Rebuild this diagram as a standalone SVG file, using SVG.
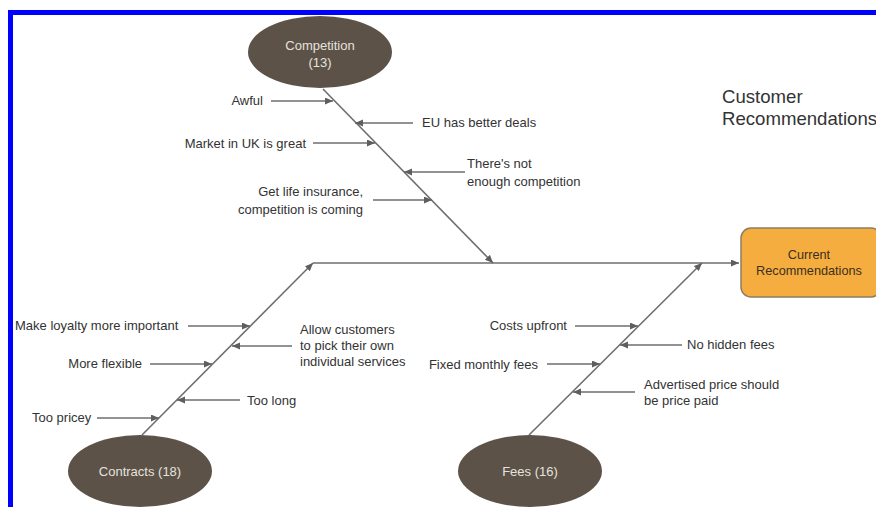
<svg xmlns="http://www.w3.org/2000/svg" width="876" height="507" viewBox="0 0 876 507">
  <style>
    .lbl { font-family: "Liberation Sans", Arial, sans-serif; font-size: 13px; fill: #333333; }
    .end { text-anchor: end; }
    .cause { fill: #5c5248; }
    .causeText { font-family: "Liberation Sans", Arial, sans-serif; font-size: 13px; fill: #e6e3df; text-anchor: middle; }
    .bone { stroke: #6e6e6e; stroke-width: 1.6; fill: none; marker-end: url(#ah); }
    .sub { stroke: #6e6e6e; stroke-width: 1.3; fill: none; marker-end: url(#ah); }
    .title { font-family: "Liberation Sans", Arial, sans-serif; font-size: 18.6px; fill: #333333; }
    .effText { font-family: "Liberation Sans", Arial, sans-serif; font-size: 12.7px; fill: #3a3020; text-anchor: middle; }
  </style>
  <defs>
    <marker id="ah" markerUnits="userSpaceOnUse" markerWidth="9" markerHeight="8" refX="8" refY="3.5" orient="auto">
      <path d="M0,0 L8,3.5 L0,7 Z" fill="#5e5e5e"/>
    </marker>
  </defs>
  <rect x="0" y="0" width="876" height="507" fill="#ffffff"/>
  <rect id="frame" x="10.5" y="12.5" width="880" height="510" fill="#ffffff" stroke="#0000ff" stroke-width="5"/>

  <g id="connectors">
    <line class="bone" x1="313" y1="263" x2="739" y2="263"/>
    <line class="bone" x1="323" y1="89" x2="493" y2="263"/>
    <line class="bone" x1="142" y1="435" x2="313" y2="263"/>
    <line class="bone" x1="529" y1="435" x2="702" y2="263"/>
    <!-- competition sub-causes -->
    <line class="sub" x1="271" y1="101" x2="333" y2="101"/>
    <line class="sub" x1="413" y1="123" x2="355" y2="123"/>
    <line class="sub" x1="313" y1="143" x2="375" y2="143"/>
    <line class="sub" x1="465" y1="172" x2="404" y2="172"/>
    <line class="sub" x1="373" y1="200" x2="432" y2="200"/>
    <!-- contracts sub-causes -->
    <line class="sub" x1="188" y1="326" x2="250" y2="326"/>
    <line class="sub" x1="292" y1="346" x2="232" y2="346"/>
    <line class="sub" x1="150" y1="364" x2="212" y2="364"/>
    <line class="sub" x1="240" y1="400" x2="177" y2="400"/>
    <line class="sub" x1="97" y1="418" x2="159" y2="418"/>
    <!-- fees sub-causes -->
    <line class="sub" x1="575" y1="326" x2="638" y2="326"/>
    <line class="sub" x1="682" y1="345" x2="620" y2="345"/>
    <line class="sub" x1="547" y1="364" x2="600" y2="364"/>
    <line class="sub" x1="635" y1="392" x2="573" y2="392"/>
  </g>

  <g id="competition">
    <ellipse class="cause" cx="320" cy="52" rx="72" ry="36"/>
    <text class="causeText" x="320" y="50">Competition</text>
    <text class="causeText" x="320" y="67">(13)</text>
  </g>
  <g id="contracts">
    <ellipse class="cause" cx="140" cy="471" rx="72" ry="36"/>
    <text class="causeText" x="140" y="476">Contracts (18)</text>
  </g>
  <g id="fees">
    <ellipse class="cause" cx="530" cy="471" rx="72" ry="36"/>
    <text class="causeText" x="530" y="476">Fees (16)</text>
  </g>
  <g id="current-recommendations">
    <rect x="741" y="228" width="140" height="69" rx="10" ry="10" fill="#f6ad3f" stroke="#8c7d62" stroke-width="1.5"/>
    <text class="effText" x="809" y="259">Current</text>
    <text class="effText" x="809" y="275">Recommendations</text>
  </g>
  <g id="title">
    <text class="title" x="722" y="103">Customer</text>
    <text class="title" x="722" y="125">Recommendations</text>
  </g>

  <g id="label-awful"><text class="lbl end" x="263" y="105">Awful</text></g>
  <g id="label-eu"><text class="lbl" x="422" y="127">EU has better deals</text></g>
  <g id="label-market"><text class="lbl end" x="306" y="148">Market in UK is great</text></g>
  <g id="label-notenough">
    <text class="lbl" x="467" y="168">There's not</text>
    <text class="lbl" x="467" y="186">enough competition</text>
  </g>
  <g id="label-life">
    <text class="lbl end" x="363" y="196">Get life insurance,</text>
    <text class="lbl end" x="363" y="214">competition is coming</text>
  </g>

  <g id="label-loyalty"><text class="lbl" x="15" y="330">Make loyalty more important</text></g>
  <g id="label-allow">
    <text class="lbl" x="300" y="334">Allow customers</text>
    <text class="lbl" x="300" y="350">to pick their own</text>
    <text class="lbl" x="300" y="366">individual services</text>
  </g>
  <g id="label-flexible"><text class="lbl end" x="142" y="368">More flexible</text></g>
  <g id="label-toolong"><text class="lbl" x="247" y="405">Too long</text></g>
  <g id="label-pricey"><text class="lbl" x="32" y="422">Too pricey</text></g>

  <g id="label-upfront"><text class="lbl end" x="567" y="330">Costs upfront</text></g>
  <g id="label-hidden"><text class="lbl" x="687" y="349">No hidden fees</text></g>
  <g id="label-monthly"><text class="lbl end" x="538" y="369">Fixed monthly fees</text></g>
  <g id="label-advertised">
    <text class="lbl" x="644" y="389">Advertised price should</text>
    <text class="lbl" x="644" y="405">be price paid</text>
  </g>
</svg>
